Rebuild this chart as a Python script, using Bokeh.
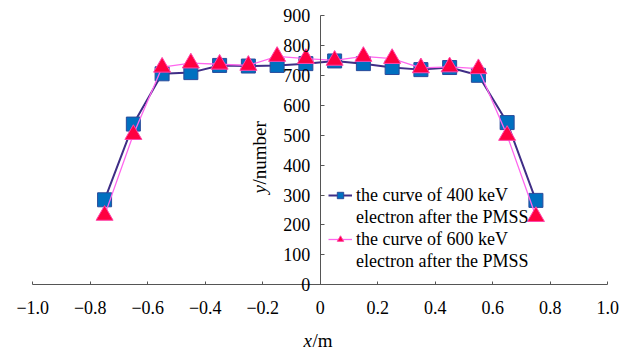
from bokeh.plotting import figure
from bokeh.models import FixedTicker, Legend, LegendItem, Label, Range1d
from bokeh.embed import file_html
from bokeh.resources import INLINE
import math

# ---- data ----
x_pos = [-0.75, -0.65, -0.55, -0.45, -0.35, -0.25, -0.15, -0.05,
         0.05, 0.15, 0.25, 0.35, 0.45, 0.55, 0.65, 0.75]
n400 = [284, 537, 705, 709, 733, 731, 733, 739, 748, 739, 726, 719, 726, 700, 542, 282]
n600 = [232, 502, 727, 741, 737, 733, 763, 756, 750, 763, 756, 725, 728, 722, 499, 228]
x_ticks = [-1.0, -0.8, -0.6, -0.4, -0.2, 0.0, 0.2, 0.4, 0.6, 0.8, 1.0]
x_tick_labels = ["\u22121.0", "\u22120.8", "\u22120.6", "\u22120.4", "\u22120.2", "0",
                 "0.2", "0.4", "0.6", "0.8", "1.0"]
y_ticks = [0, 100, 200, 300, 400, 500, 600, 700, 800, 900]
legend_lines_400 = ["the curve of 400 keV", "electron after the PMSS"]
legend_lines_600 = ["the curve of 600 keV", "electron after the PMSS"]

FONT = "Liberation Serif"
AXIS_COLOR = "#555555"

# the frame fills the whole canvas; both axes are drawn crossing inside it
p = figure(width=628, height=351, output_backend="svg", toolbar_location=None,
           x_range=Range1d(-1.112, 1.072), y_range=Range1d(-223, 950),
           min_border_left=0, min_border_right=0, min_border_top=0, min_border_bottom=0)
p.outline_line_color = None
p.xgrid.visible = False
p.ygrid.visible = False
p.background_fill_color = "white"
p.border_fill_color = "white"

xa = p.xaxis[0]
xa.fixed_location = 0
xa.bounds = (x_ticks[0], x_ticks[-1])
xa.ticker = FixedTicker(ticks=x_ticks)
xa.major_label_overrides = dict(zip(x_ticks, x_tick_labels))
xa.major_tick_in = 3
xa.major_tick_out = 0
xa.minor_tick_line_color = None
xa.axis_line_color = AXIS_COLOR
xa.major_tick_line_color = AXIS_COLOR
xa.major_label_text_font = FONT
xa.major_label_text_font_size = "18px"
xa.major_label_text_color = "black"
xa.major_label_standoff = 16
xa.axis_label = None

ya = p.yaxis[0]
ya.fixed_location = 0
ya.bounds = (y_ticks[0], y_ticks[-1])
ya.ticker = FixedTicker(ticks=y_ticks)
ya.major_tick_in = 4
ya.major_tick_out = 0
ya.minor_tick_line_color = None
ya.axis_line_color = AXIS_COLOR
ya.major_tick_line_color = AXIS_COLOR
ya.major_label_text_font = FONT
ya.major_label_text_font_size = "18px"
ya.major_label_text_color = "black"
ya.major_label_standoff = 10
ya.axis_label = None

# series
l400 = p.line(x_pos, n400, line_color="#3F2D86", line_width=2)
s400 = p.scatter(x_pos, n400, marker="square", size=14, fill_color="#0070C0",
                 line_color="#2A4A9A", line_width=1)
l600 = p.line(x_pos, n600, line_color="#FF66EE", line_width=1.3)
s600 = p.scatter(x_pos, n600, marker="triangle", size=17, fill_color="#FF0040",
                 line_color="#FF44AA", line_width=1)

# legend: one item per text line (second lines have an empty, invisible renderer)
blank = p.line([], [], line_alpha=0)
legend = Legend(items=[LegendItem(label=legend_lines_400[0], renderers=[l400, s400]),
                       LegendItem(label=legend_lines_400[1], renderers=[blank]),
                       LegendItem(label=legend_lines_600[0], renderers=[l600, s600]),
                       LegendItem(label=legend_lines_600[1], renderers=[blank])],
                location=(328, 79), orientation="vertical",
                border_line_color=None, background_fill_alpha=0,
                padding=0, margin=0, spacing=0,
                glyph_width=24, glyph_height=16, label_standoff=4,
                label_text_font=FONT, label_text_font_size="18px",
                label_text_color="black", label_height=22)
p.add_layout(legend, "center")

# axis titles
lab_kw = dict(x_units="screen", y_units="screen", text_font=FONT,
              text_font_size="19px", text_color="black")
p.add_layout(Label(x=303, y=11, text="x", text_font_style="italic",
                   text_align="left", text_baseline="middle", **lab_kw))
p.add_layout(Label(x=312, y=11, text="/m", text_align="left",
                   text_baseline="middle", **lab_kw))
p.add_layout(Label(x=259, y=158, text="y", text_font_style="italic", angle=math.pi / 2,
                   text_align="left", text_baseline="middle", **lab_kw))
p.add_layout(Label(x=259, y=167, text="/number", angle=math.pi / 2,
                   text_align="left", text_baseline="middle", **lab_kw))

open("out.html", "w").write(file_html(p, INLINE))
